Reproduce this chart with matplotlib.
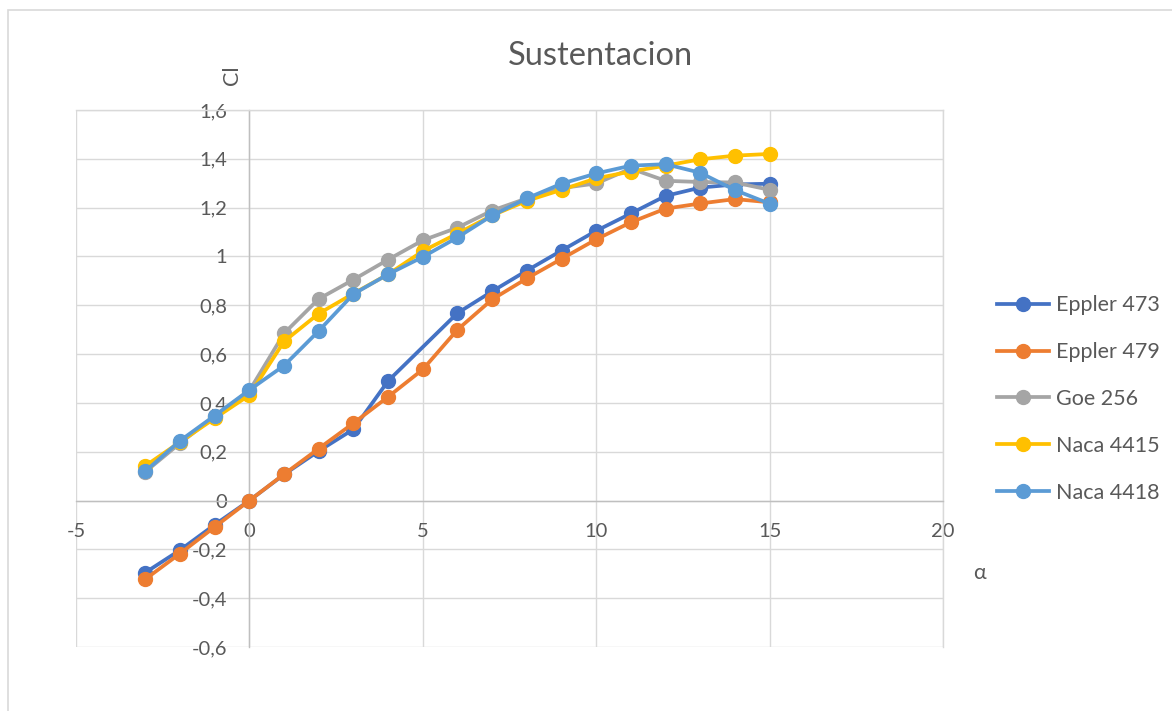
import matplotlib
matplotlib.use("Agg")
import matplotlib.pyplot as plt
from matplotlib.ticker import FuncFormatter, MultipleLocator
from matplotlib.patches import Rectangle

plt.rcParams['font.family'] = ['Lato', 'DejaVu Sans']

alpha_full = [-3, -2, -1, 0, 1, 2, 3, 4, 5, 6, 7, 8, 9, 10, 11, 12, 13, 14, 15]
alpha_e473 = [-3, -2, -1, 0, 1, 2, 3, 4, 6, 7, 8, 9, 10, 11, 12, 13, 14, 15]

eppler473 = [-0.295, -0.203, -0.099, 0.0, 0.107, 0.203, 0.292, 0.49, 0.768, 0.857,
             0.942, 1.024, 1.105, 1.176, 1.248, 1.282, 1.295, 1.298]
eppler479 = [-0.322, -0.217, -0.108, 0.0, 0.108, 0.213, 0.317, 0.425, 0.537, 0.70,
             0.824, 0.91, 0.99, 1.07, 1.14, 1.196, 1.217, 1.235, 1.222]
goe256 = [0.118, 0.235, 0.345, 0.45, 0.685, 0.826, 0.905, 0.987, 1.066, 1.118,
          1.188, 1.238, 1.28, 1.299, 1.36, 1.31, 1.305, 1.303, 1.273]
naca4415 = [0.142, 0.24, 0.337, 0.432, 0.652, 0.766, 0.848, 0.927, 1.022, 1.094,
            1.168, 1.228, 1.273, 1.32, 1.348, 1.372, 1.398, 1.413, 1.42]
naca4418 = [0.12, 0.245, 0.348, 0.453, 0.553, 0.695, 0.846, 0.927, 0.998, 1.078,
            1.168, 1.238, 1.298, 1.34, 1.372, 1.378, 1.343, 1.272, 1.216]

series = [
    ("Eppler 473", alpha_e473, eppler473, "#4472C4"),
    ("Eppler 479", alpha_full, eppler479, "#ED7D31"),
    ("Goe 256", alpha_full, goe256, "#A5A5A5"),
    ("Naca 4415", alpha_full, naca4415, "#FFC000"),
    ("Naca 4418", alpha_full, naca4418, "#5B9BD5"),
]

W, H = 1172, 711
fig = plt.figure(figsize=(W / 100, H / 100), dpi=100)
fig.patches.append(Rectangle((8 / W, -0.05), 1.2, (H - 10) / H + 0.05,
                             transform=fig.transFigure, fill=False,
                             edgecolor="#d9d9d9", lw=1.2))

ax = fig.add_axes([76 / W, (H - 647) / H, (943 - 76) / W, (647 - 110) / H])
for name, xs, ys, c in series:
    ax.plot(xs, ys, '-o', color=c, lw=2.7, ms=10, label=name, zorder=3)

ax.set_xlim(-5, 20)
ax.set_ylim(-0.6, 1.6)
ax.xaxis.set_major_locator(MultipleLocator(5))
ax.yaxis.set_major_locator(MultipleLocator(0.2))
fmt = FuncFormatter(lambda v, p: f"{round(v, 1):g}".replace('.', ','))
ax.xaxis.set_major_formatter(fmt)
ax.yaxis.set_major_formatter(fmt)

ax.grid(True, color="#d9d9d9", lw=1.0, zorder=0)
ax.spines['left'].set_position(('data', 0))
ax.spines['bottom'].set_position(('data', 0))
for s in ['left', 'bottom']:
    ax.spines[s].set_color("#bfbfbf")
    ax.spines[s].set_linewidth(1.0)
for s in ['top', 'right']:
    ax.spines[s].set_color("#d9d9d9")
    ax.spines[s].set_linewidth(1.0)
ax.tick_params(axis='both', length=0, labelsize=14.5, labelcolor="#595959")
ax.tick_params(axis='y', pad=16)
ax.tick_params(axis='x', pad=16)
ax.set_axisbelow(True)

fig.text(600 / W, 1 - 56 / H, "Sustentacion", ha='center', va='center',
         fontsize=23.5, color="#595959")
fig.text(232 / W, 1 - 75 / H, "Cl", ha='center', va='center', rotation=90,
         fontsize=15.5, color="#595959")
fig.text(980 / W, 1 - 573 / H, "α", ha='center', va='center',
         fontsize=15.5, color="#595959")

leg = ax.legend(loc='center left', bbox_to_anchor=(978 / W, 1 - 399 / H),
                bbox_transform=fig.transFigure, frameon=False, fontsize=15.5,
                labelspacing=1.25, handlelength=2.4, handletextpad=0.3)
for t in leg.get_texts():
    t.set_color("#595959")

fig.savefig("out.png", dpi=100)
